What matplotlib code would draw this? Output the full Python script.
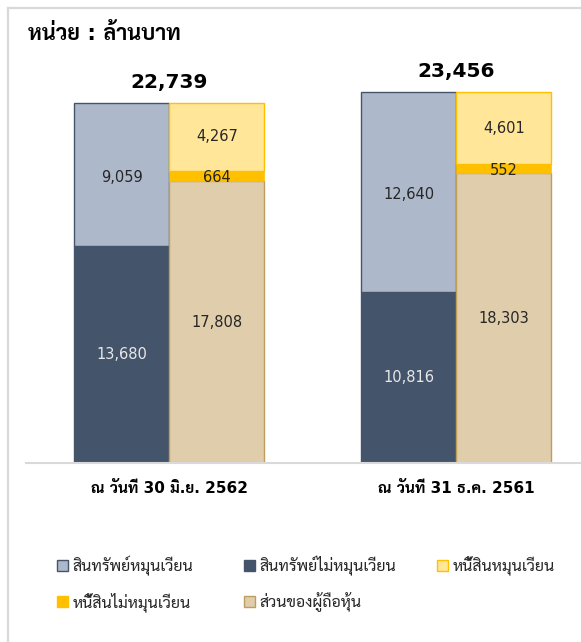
import matplotlib
matplotlib.use("Agg")
import matplotlib.pyplot as plt
from matplotlib.patches import Patch
from matplotlib.lines import Line2D
import numpy as np

plt.rcParams['font.family'] = ['DejaVu Sans', 'Sarabun']

# data (million baht)
periods = ['ณ วันที่ 30 มิ.ย. 2562', 'ณ วันที่ 31 ธ.ค. 2561']
noncurrent_assets = [13680, 10816]
current_assets = [9059, 12640]
equity = [17808, 18303]
noncurrent_liab = [664, 552]
current_liab = [4267, 4601]
totals = [22739, 23456]

names = ['สินทรัพย์หมุนเวียน', 'สินทรัพย์ไม่หมุนเวียน', 'หนี้สินหมุนเวียน',
         'หนี้สินไม่หมุนเวียน', 'ส่วนของผู้ถือหุ้น']

W, H = 581, 642
fig = plt.figure(figsize=(W / 100, H / 100), dpi=100)

# outer frame (only top/left visible in the crop)
fig.add_artist(Line2D([8 / W, 8 / W], [0, 1 - 8 / H], color='#d9d9d9', lw=1.6))
fig.add_artist(Line2D([8 / W, 1], [1 - 8 / H, 1 - 8 / H], color='#d9d9d9', lw=1.6))

fig.text(28 / W, 1 - 33 / H, 'หน่วย : ล้านบาท', fontsize=15.5, fontweight='bold',
         va='center', ha='left')

# axes: x from 26 to 581 px, y baseline at 463 px, 0..25000
ax = fig.add_axes([26 / W, 1 - 463 / H, (W - 26) / W, 395.8 / H])
ax.set_ylim(0, 25000)
ax.set_xlim(-0.5, 1.435)
for s in ['top', 'right', 'left']:
    ax.spines[s].set_visible(False)
ax.spines['bottom'].set_color('#d9d9d9')
ax.spines['bottom'].set_linewidth(1.5)
ax.set_yticks([])
ax.tick_params(axis='x', length=0, pad=13)

x = np.arange(len(periods))
w = 0.331
xa = x - w / 2
xl = x + w / 2

c_ca, e_ca = '#adb9ca', '#44546a'
c_nca = '#44546a'
c_cl, e_cl = '#ffe699', '#ffc000'
c_ncl = '#ffc000'
c_eq, e_eq = '#dfcdab', '#bf9d5a'

ax.bar(xa, noncurrent_assets, w, color=c_nca, edgecolor=c_nca, lw=1)
ax.bar(xa, current_assets, w, bottom=noncurrent_assets, color=c_ca, edgecolor=e_ca, lw=1)
ax.bar(xl, equity, w, color=c_eq, edgecolor=e_eq, lw=1)
bot2 = np.array(equity) + np.array(noncurrent_liab)
ax.bar(xl, noncurrent_liab, w, bottom=equity, color=c_ncl, edgecolor=c_ncl, lw=0.5)
ax.bar(xl, current_liab, w, bottom=bot2, color=c_cl, edgecolor=e_cl, lw=1)

fs = 10.5
for i in range(len(periods)):
    ax.text(xa[i], noncurrent_assets[i] / 2, f'{noncurrent_assets[i]:,}', ha='center',
            va='center', fontsize=fs, color='#e8e8e8')
    ax.text(xa[i], noncurrent_assets[i] + current_assets[i] / 2 - 150, f'{current_assets[i]:,}',
            ha='center', va='center', fontsize=fs, color='#262626')
    ax.text(xl[i], equity[i] / 2, f'{equity[i]:,}', ha='center', va='center',
            fontsize=fs, color='#262626')
    ax.text(xl[i], equity[i] + noncurrent_liab[i] / 2 - 100, f'{noncurrent_liab[i]:,}',
            ha='center', va='center', fontsize=fs, color='#262626')
    ax.text(xl[i], bot2[i] + current_liab[i] / 2, f'{current_liab[i]:,}', ha='center',
            va='center', fontsize=fs, color='#262626')
    ax.text(x[i], totals[i] + 700, f'{totals[i]:,}', ha='center', va='bottom',
            fontsize=14.5, fontweight='bold', color='black')

ax.set_xticks(x)
ax.set_xticklabels(periods, fontsize=11, fontweight='bold')

handles = [
    Patch(facecolor=c_ca, edgecolor=e_ca, label=names[0]),
    Patch(facecolor=c_nca, edgecolor=c_nca, label=names[1]),
    Patch(facecolor=c_cl, edgecolor=e_cl, label=names[2]),
    Patch(facecolor=c_ncl, edgecolor=c_ncl, label=names[3]),
    Patch(facecolor=c_eq, edgecolor=e_eq, label=names[4]),
]
# legend: three columns placed like the original (3 items on row 1, 2 on row 2)
columns = [[0, 3], [1, 4], [2]]
col_x = [57, 244, 437]
for cx, idx in zip(col_x, columns):
    leg = fig.legend([handles[k] for k in idx], [names[k] for k in idx],
                     loc='upper left', bbox_to_anchor=(cx / W, 1 - 556 / H),
                     frameon=False, fontsize=11.5, handlelength=0.7, handleheight=0.7,
                     handletextpad=0.3, labelspacing=1.02, borderpad=0,
                     borderaxespad=0)
    for t in leg.get_texts():
        t.set_color('#262626')

fig.savefig('out.png', dpi=100)
